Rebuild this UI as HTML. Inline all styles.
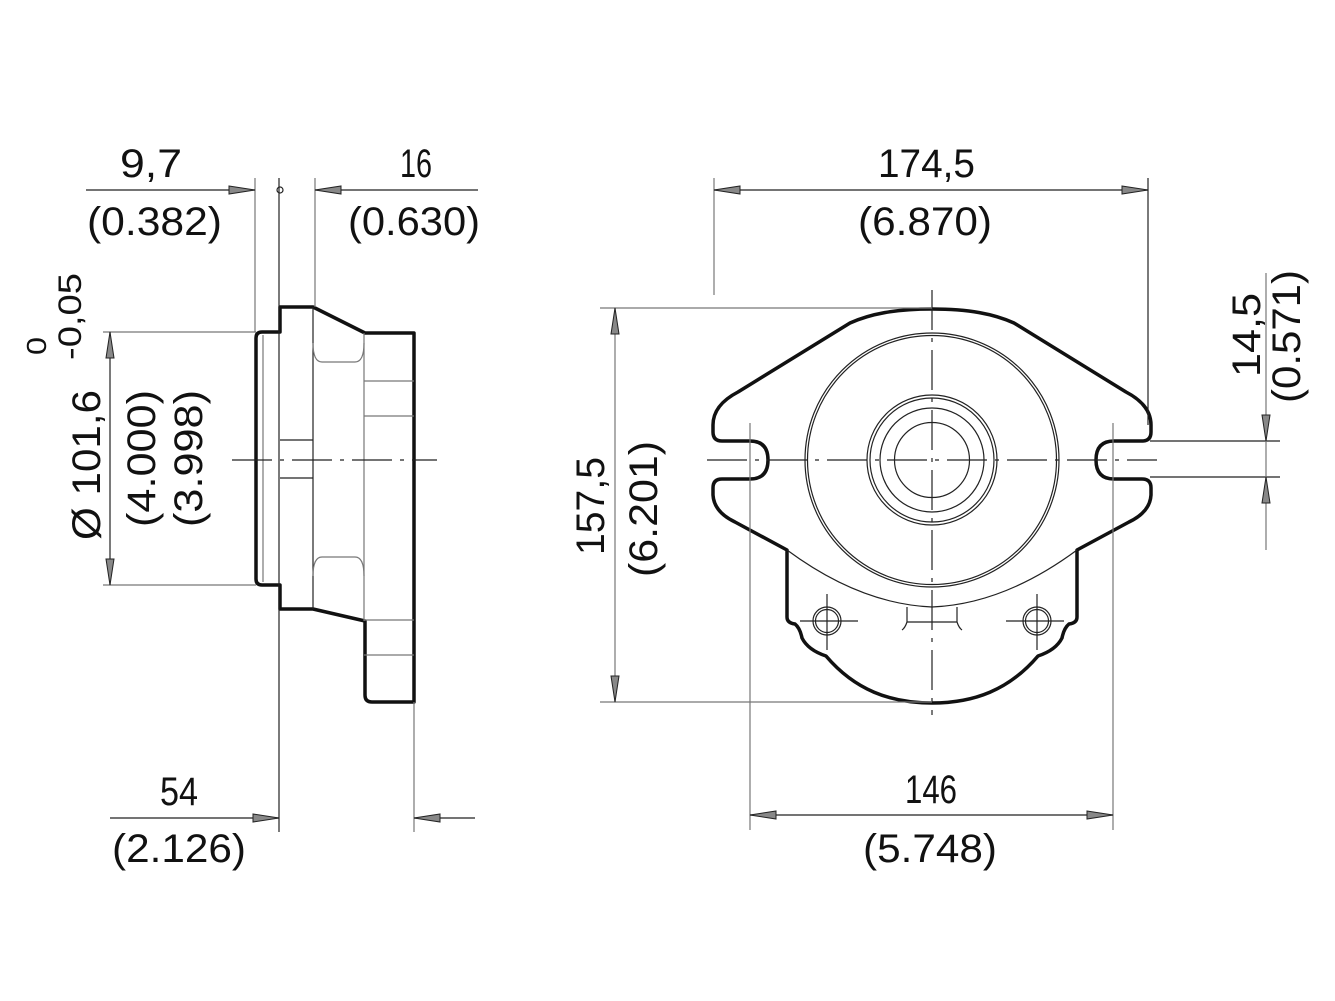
<!DOCTYPE html>
<html><head><meta charset="utf-8"><style>
html,body{margin:0;padding:0;background:#fff}
svg{display:block}
text{font-family:"Liberation Sans",sans-serif;font-size:40px;fill:#111}
.t{stroke:#111;stroke-width:3.5;fill:none;stroke-linejoin:round}
.n{stroke:#222;stroke-width:1.2;fill:none}
.g{stroke:#777;stroke-width:1.2;fill:none}
.a{fill:#888;stroke:#222;stroke-width:1}
.c{stroke:#222;stroke-width:1.2;fill:none;stroke-dasharray:40 8 4 8}
</style></head><body>
<svg width="1335" height="1001" viewBox="0 0 1335 1001">
<!-- LEFT VIEW -->
<g>
<path class="t" d="M280,332 L280,307 L313,307 L365,333 L414,333 L414,702 L372,702 Q365,702 365,695 L365,621 L313,609 L280,609 L280,585 L262,585 Q256,585 256,579 L256,338 Q256,332 262,332 Z"/>
<line class="n" x1="313" y1="307" x2="313" y2="609"/>
<line class="g" x1="364" y1="333" x2="364" y2="621"/>
<line class="g" x1="263" y1="335" x2="263" y2="582"/>
<path class="g" d="M313,343 Q313,362 322,362 L355,362 Q364,362 364,343"/>
<path class="g" d="M313,576 Q313,557 322,557 L355,557 Q364,557 364,576"/>
<line class="g" x1="364" y1="381" x2="414" y2="381"/>
<line class="g" x1="364" y1="416" x2="414" y2="416"/>
<line class="g" x1="364" y1="620" x2="414" y2="620"/>
<line class="g" x1="364" y1="655" x2="414" y2="655"/>
<line class="n" x1="280" y1="440" x2="313" y2="440"/>
<line class="n" x1="280" y1="478" x2="313" y2="478"/>
<line class="c" x1="232" y1="460" x2="437" y2="460"/>
<!-- extension lines -->
<line class="g" x1="255" y1="178" x2="255" y2="332"/>
<line class="n" x1="279" y1="178" x2="279" y2="832"/>
<line class="g" x1="315" y1="178" x2="315" y2="307"/>
<line class="g" x1="414" y1="702" x2="414" y2="832"/>
<line class="g" x1="103" y1="332" x2="256" y2="332"/>
<line class="g" x1="103" y1="585" x2="256" y2="585"/>
<!-- dims -->
<line class="n" x1="86" y1="190" x2="255" y2="190"/>
<line class="n" x1="315" y1="190" x2="478" y2="190"/>
<circle class="n" cx="280" cy="190" r="3"/>
<polygon class="a" points="229,186 255,190 229,194"/>
<polygon class="a" points="315,190 341,186 341,194"/>
<line class="n" x1="110" y1="332" x2="110" y2="585"/>
<polygon class="a" points="110,332 106,358 114,358"/>
<polygon class="a" points="106,559 110,585 114,559"/>
<line class="n" x1="110" y1="818" x2="279" y2="818"/>
<line class="n" x1="414" y1="818" x2="475" y2="818"/>
<polygon class="a" points="253,814 279,818 253,822"/>
<polygon class="a" points="414,818 440,814 440,822"/>
</g>
<text x="120" y="177" textLength="62" lengthAdjust="spacingAndGlyphs">9,7</text>
<text x="87" y="235" textLength="135" lengthAdjust="spacingAndGlyphs">(0.382)</text>
<text x="400" y="177" textLength="32" lengthAdjust="spacingAndGlyphs">16</text>
<text x="348" y="235" textLength="132" lengthAdjust="spacingAndGlyphs">(0.630)</text>
<text x="160" y="805" textLength="38" lengthAdjust="spacingAndGlyphs">54</text>
<text x="112" y="862" textLength="134" lengthAdjust="spacingAndGlyphs">(2.126)</text>
<text transform="translate(100,540) rotate(-90)" textLength="150" lengthAdjust="spacingAndGlyphs">Ø 101,6</text>
<text transform="translate(81,360) rotate(-90)" style="font-size:32px" textLength="87" lengthAdjust="spacingAndGlyphs">-0,05</text>
<text transform="translate(46,355) rotate(-90)" style="font-size:28px" textLength="18" lengthAdjust="spacingAndGlyphs">0</text>
<text transform="translate(155,527) rotate(-90)" textLength="137" lengthAdjust="spacingAndGlyphs">(4.000)</text>
<text transform="translate(202,527) rotate(-90)" textLength="137" lengthAdjust="spacingAndGlyphs">(3.998)</text>

<!-- RIGHT VIEW -->
<g>
<path class="t" d="M932,309 C895,309 870,314 850,323 L738,392 Q713,405 713,425 L713,432 Q713,441 722,441 L750,441 Q768,441 768,460 Q768,479 750,479 L722,479 Q713,479 713,488 L713,495 Q714,512 735,522 L787,550 L787,617 Q787,623 795,624 Q800,628 802,638 Q808,650 826,656 C855,690 890,703 932,703 C974,703 1009,690 1038,656 Q1056,650 1062,638 Q1064,628 1069,624 Q1077,623 1077,617 L1077,550 L1129,522 Q1150,512 1151,495 L1151,488 Q1151,479 1142,479 L1114,479 Q1096,479 1096,460 Q1096,441 1114,441 L1142,441 Q1151,441 1151,432 L1151,425 Q1151,405 1126,392 L1014,323 C994,314 969,309 932,309 Z"/>
<circle class="n" cx="932" cy="460" r="127"/>
<circle class="n" cx="932" cy="460" r="124.5"/>
<circle class="n" cx="932" cy="460" r="65"/>
<circle class="n" cx="932" cy="460" r="62"/>
<circle class="n" cx="932" cy="460" r="52"/>
<circle class="n" cx="932" cy="460" r="37.5"/>
<path class="n" d="M787,550 Q860,604 932,607 Q1004,604 1077,550"/>
<path class="n" d="M907,607 L907,622 Q905,628 902,630 M957,607 L957,622 Q959,628 962,630 M907,622 L957,622"/>
<circle class="n" cx="827" cy="621" r="14"/>
<circle class="n" cx="827" cy="621" r="11.5"/>
<circle class="n" cx="1037" cy="621" r="14"/>
<circle class="n" cx="1037" cy="621" r="11.5"/>
<line class="n" x1="800" y1="621" x2="858" y2="621"/>
<line class="n" x1="827" y1="594" x2="827" y2="650"/>
<line class="n" x1="1006" y1="621" x2="1064" y2="621"/>
<line class="n" x1="1037" y1="594" x2="1037" y2="650"/>
<line class="c" x1="707" y1="460" x2="1157" y2="460"/>
<line class="c" x1="932" y1="290" x2="932" y2="715"/>
<!-- ext lines -->
<line class="g" x1="714" y1="178" x2="714" y2="295"/>
<line class="n" x1="1148" y1="178" x2="1148" y2="425"/>
<line class="g" x1="600" y1="308" x2="932" y2="308"/>
<line class="g" x1="600" y1="702" x2="932" y2="702"/>
<line class="g" x1="750" y1="423" x2="750" y2="830"/>
<line class="g" x1="1113" y1="423" x2="1113" y2="830"/>
<line class="n" x1="1150" y1="441" x2="1280" y2="441"/>
<line class="n" x1="1150" y1="477" x2="1280" y2="477"/>
<!-- dims -->
<line class="n" x1="714" y1="190" x2="1148" y2="190"/>
<polygon class="a" points="714,190 740,186 740,194"/>
<polygon class="a" points="1122,186 1148,190 1122,194"/>
<line class="g" x1="615" y1="308" x2="615" y2="702"/>
<polygon class="a" points="615,308 611,334 619,334"/>
<polygon class="a" points="611,676 615,702 619,676"/>
<line class="g" x1="1266" y1="273" x2="1266" y2="550"/>
<polygon class="a" points="1262,415 1266,441 1270,415"/>
<polygon class="a" points="1262,503 1266,477 1270,503"/>
<line class="n" x1="750" y1="815" x2="1113" y2="815"/>
<polygon class="a" points="750,815 776,811 776,819"/>
<polygon class="a" points="1087,811 1113,815 1087,819"/>
</g>
<text x="878" y="177" textLength="97" lengthAdjust="spacingAndGlyphs">174,5</text>
<text x="858" y="235" textLength="134" lengthAdjust="spacingAndGlyphs">(6.870)</text>
<text x="905" y="803" textLength="52" lengthAdjust="spacingAndGlyphs">146</text>
<text x="863" y="862" textLength="134" lengthAdjust="spacingAndGlyphs">(5.748)</text>
<text transform="translate(604,555) rotate(-90)" textLength="98" lengthAdjust="spacingAndGlyphs">157,5</text>
<text transform="translate(657,577) rotate(-90)" textLength="136" lengthAdjust="spacingAndGlyphs">(6.201)</text>
<text transform="translate(1260,377) rotate(-90)" textLength="84" lengthAdjust="spacingAndGlyphs">14,5</text>
<text transform="translate(1300,403) rotate(-90)" textLength="133" lengthAdjust="spacingAndGlyphs">(0.571)</text>
</svg>
</body></html>
